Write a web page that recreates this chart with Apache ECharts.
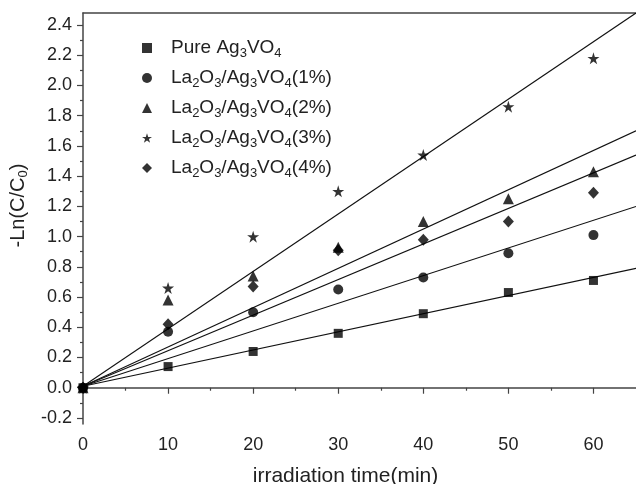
<!DOCTYPE html>
<html>
<head>
<meta charset="utf-8">
<script src="https://cdn.jsdelivr.net/npm/echarts@6/dist/echarts.min.js"></script>
<style>html,body{margin:0;padding:0;background:#fff}#c{width:636px;height:484px}</style>
</head>
<body>
<div id="c"></div>
<script>
// ---- data ----
const times = [0, 10, 20, 30, 40, 50, 60];
const pure = [0.0, 0.14, 0.24, 0.36, 0.49, 0.63, 0.71];
const la1  = [0.0, 0.37, 0.50, 0.65, 0.73, 0.89, 1.01];
const la2  = [0.0, 0.58, 0.74, 0.93, 1.10, 1.25, 1.43];
const la3  = [0.0, 0.66, 1.00, 1.30, 1.54, 1.86, 2.18];
const la4  = [0.0, 0.42, 0.67, 0.91, 0.98, 1.10, 1.29];
// linear fits (values at fitX)
const fitX = [0, 65];
const fitPure = [0.01, 0.79];
const fit1 = [0.01, 1.20];
const fit2 = [0.01, 1.70];
const fit3 = [0.01, 2.48];
const fit4 = [0.01, 1.54];
const names = ['Pure Ag3VO4', 'La2O3/Ag3VO4(1%)', 'La2O3/Ag3VO4(2%)', 'La2O3/Ag3VO4(3%)', 'La2O3/Ag3VO4(4%)'];
const yTicks = [-0.2, 0.0, 0.2, 0.4, 0.6, 0.8, 1.0, 1.2, 1.4, 1.6, 1.8, 2.0, 2.2, 2.4];
const yMinor = [-0.1, 0.1, 0.3, 0.5, 0.7, 0.9, 1.1, 1.3, 1.5, 1.7, 1.9, 2.1, 2.3];
const xTicks = [0, 10, 20, 30, 40, 50, 60];
const xMinor = [5, 15, 25, 35, 45, 55];

const FONT = 'Liberation Sans, Arial, sans-serif';
const AX = '#444';
const STAR = 'path://M100 0 L122.45 69.1 L195.1 69.1 L136.3 111.8 L158.8 180.9 L100 138.2 L41.2 180.9 L63.7 111.8 L4.9 69.1 L77.55 69.1 Z';
const symbols = ['rect', 'circle', 'triangle', STAR, 'diamond'];
const sizes = [9, 10, 11, 12, [11, 12]];
const sets = [pure, la1, la2, la3, la4];
const fits = [fitPure, fit1, fit2, fit3, fit4];

function richName(name) {
  let out = '';
  let buf = '';
  for (let i = 0; i < name.length; i++) {
    const ch = name[i];
    const prev = name[i - 1];
    if (/[0-9]/.test(ch) && prev && /[A-Za-z]/.test(prev) && name[i+1] !== '%') {
      if (buf) { out += '{n|' + buf + '}'; buf = ''; }
      out += '{s|' + ch + '}';
    } else {
      buf += ch;
    }
  }
  if (buf) out += '{n|' + buf + '}';
  return out;
}
const richStyles = {
  n: { fontSize: 19, fontFamily: FONT, color: '#222', lineHeight: 22 },
  s: { fontSize: 13, fontFamily: FONT, color: '#222', lineHeight: 13, padding: [11, 0, 0, 0] }
};

const series = [];
sets.forEach((d, k) => {
  series.push({
    name: names[k], type: 'scatter', symbol: symbols[k], symbolSize: sizes[k],
    itemStyle: { color: '#000' },
    data: times.map((t, i) => [t, d[i]]), z: 5
  });
});
fits.forEach((f) => {
  series.push({
    type: 'line', symbol: 'none', silent: true, clip: true,
    lineStyle: { color: '#111', width: 1.1 },
    data: fitX.map((x, i) => [x, f[i]]), z: 3
  });
});

const option = {
  animation: false,
  backgroundColor: '#fff',
  grid: { left: 83, top: 13, right: 0, bottom: 60, outerBoundsMode: 'none', containLabel: false },
  legend: {
    orient: 'vertical', left: 137, top: 31, itemGap: 6,
    itemWidth: 10, itemHeight: 10,
    data: names.map((n, k) => ({ name: n, icon: symbols[k], itemStyle: { color: '#000' } })),
    formatter: richName,
    textStyle: { rich: richStyles, padding: [0, 0, 0, 14] }
  },
  xAxis: [
    {
      type: 'value', min: 0, max: 65, position: 'bottom',
      name: 'irradiation time(min)', nameLocation: 'middle', nameGap: 42,
      nameTextStyle: { fontSize: 21, fontFamily: FONT, color: '#222', padding: [0, 28, 0, 0] },
      axisLine: { show: true, lineStyle: { color: AX, width: 1.5 } },
      axisTick: { show: true, inside: false, length: 6, customValues: xTicks, lineStyle: { color: AX, width: 1.2 } },
      axisLabel: { customValues: xTicks, fontSize: 18, fontFamily: FONT, color: '#222', margin: 12 },
      splitLine: { show: false }
    },
    {
      type: 'value', min: 0, max: 65, position: 'bottom',
      axisLine: { show: false },
      axisTick: { show: true, length: 3, customValues: xMinor, lineStyle: { color: AX, width: 1.2 } },
      axisLabel: { show: false }, splitLine: { show: false }
    },
    {
      type: 'value', min: 0, max: 65, position: 'top',
      axisLine: { show: true, lineStyle: { color: AX, width: 1.5 } },
      axisTick: { show: false }, axisLabel: { show: false }, splitLine: { show: false }
    }
  ],
  yAxis: [
    {
      type: 'value', min: -0.24, max: 2.48, position: 'left',
      name: '{n|-Ln(C/C}{s|0}{n|)}', nameLocation: 'middle', nameGap: 40, nameRotate: 90,
      nameTextStyle: { padding: [0, 0, 0, 26], rich: {
        n: { fontSize: 20, fontFamily: FONT, color: '#222', lineHeight: 22 },
        s: { fontSize: 13, fontFamily: FONT, color: '#222', lineHeight: 13, padding: [11, 0, 0, 0] }
      } },
      axisLine: { show: true, lineStyle: { color: AX, width: 1.5 } },
      axisTick: { show: true, length: 6, customValues: yTicks, lineStyle: { color: AX, width: 1.2 } },
      axisLabel: { customValues: yTicks, fontSize: 18, fontFamily: FONT, color: '#222', margin: 11,
        formatter: v => v.toFixed(1) },
      splitLine: { show: false }
    },
    {
      type: 'value', min: -0.24, max: 2.48, position: 'left',
      axisLine: { show: false },
      axisTick: { show: true, length: 3, customValues: yMinor, lineStyle: { color: AX, width: 1.2 } },
      axisLabel: { show: false }, splitLine: { show: false }
    }
  ],
  series: series
};
const chart = echarts.init(document.getElementById('c'), null, { renderer: 'canvas' });
chart.setOption(option);
</script>
</body>
</html>
